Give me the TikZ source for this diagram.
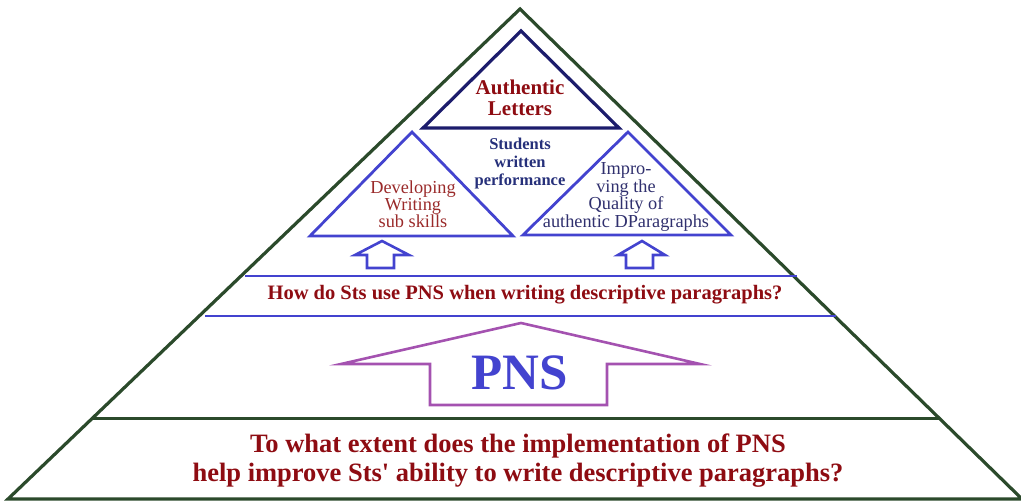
\documentclass[tikz,border=0pt]{standalone}
\usepackage{fontspec}
\setmainfont{Liberation Serif}
\usetikzlibrary{calc}
\definecolor{pyrgreen}{HTML}{2B4A2B}
\definecolor{navytri}{HTML}{1C1C6C}
\definecolor{bluetri}{HTML}{4343CF}
\definecolor{pnsviolet}{HTML}{A452B0}
\definecolor{qred}{HTML}{8E0C12}
\definecolor{perfblue}{HTML}{26307A}
\definecolor{labelred}{HTML}{9A2A2A}
\definecolor{labelblue}{HTML}{30306E}
\newcommand{\fsz}[2]{\fontsize{#1}{#2}\selectfont}

\begin{document}
\begin{tikzpicture}[
      x=1pt, y=-1pt,
      frame/.style={draw=pyrgreen, line width=3.2pt, line join=miter},
      toptri/.style={draw=navytri, line width=3.2pt, line join=miter},
      subtri/.style={draw=bluetri, line width=2.8pt, line join=miter},
      band/.style={draw=bluetri, line width=2.8pt},
      smallarr/.style={draw=bluetri, line width=2.6pt, line join=miter},
      bigarr/.style={draw=pnsviolet, line width=2.6pt, line join=miter},
      txt/.style={inner sep=0pt, align=center}
    ]
    \useasboundingbox (0,0) rectangle (1021,502);
    % outer pyramid
    \coordinate (apex) at (520,9);
    \coordinate (bl) at (8,499);
    \coordinate (br) at (1022,499);
    \draw[frame] (apex) -- (bl) -- (br) -- cycle;
    \coordinate (barl) at ($(apex)!0.835!(bl)$);
    \coordinate (barr) at ($(apex)!0.835!(br)$);
    \draw[frame] (barl) -- (barr);
    % inner triangles
    \draw[toptri] (521,31) -- (423,128) -- (619,128) -- cycle;
    \draw[subtri] (412,132) -- (310,236) -- (513,236) -- cycle;
    \draw[subtri] (628,132) -- (523,235) -- (731,235) -- cycle;
    % question band
    \draw[band] (245,276) -- (797,276);
    \draw[band] (205,316) -- (836,316);
    % small arrows
    \draw[smallarr] (382,241) -- (409,255) -- (394,255) -- (394,268)
       -- (367,268) -- (367,255) -- (355,255) -- cycle;
    \draw[smallarr] (642,241) -- (665,255) -- (653,255) -- (653,268)
       -- (626,268) -- (626,255) -- (618,255) -- cycle;
    % PNS arrow
    \draw[bigarr] (521,323) -- (700,364) -- (607,364) -- (607,405)
       -- (430,405) -- (430,364) -- (341,364) -- cycle;
    % texts
    \node[txt, text=qred, font=\bfseries\fsz{21}{21}] (auth) at (520,98) {Authentic\\Letters};
    \node[txt, text=perfblue, font=\bfseries\fsz{16.5}{18}] (perf) at (520,164) {Students\\written\\performance};
    \node[txt, text=labelred, font=\fsz{18.3}{17}] (dev) at (413,204) {Developing\\Writing\\sub skills};
    \node[txt, text=labelblue, font=\fsz{18.3}{16}] (imp) at (626,197) {Impro-\\ving the\\Quality of\\authentic DParagraphs};
    \node[txt, text=qred, font=\bfseries\fsz{20.5}{20}] (how) at (525,295) {How do Sts use PNS when writing descriptive paragraphs?};
    \node[txt, text=bluetri, font=\bfseries\fsz{51}{51}] (pns) at (520,373) {PNS};
    \node[txt, text=qred, font=\bfseries\fsz{26.5}{29}] (ext) at (518,461) {To what extent does the implementation of PNS\\help improve Sts\textquotesingle{} ability to write descriptive paragraphs?};
  \end{tikzpicture}
\end{document}
